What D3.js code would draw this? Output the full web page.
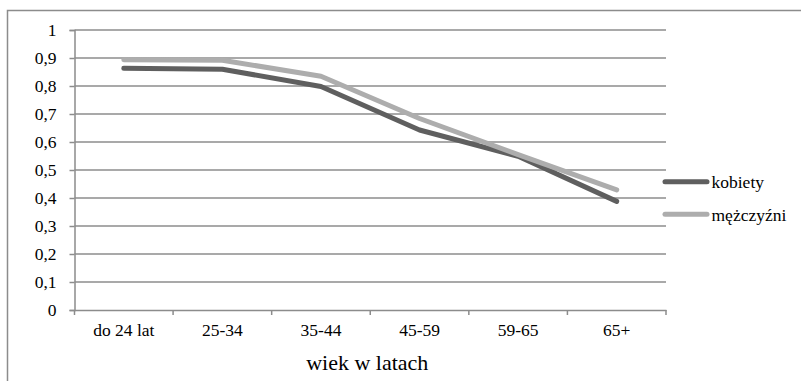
<!DOCTYPE html>
<html>
<head>
<meta charset="utf-8">
<script src="https://cdn.jsdelivr.net/npm/d3@7"></script>
<style>
  body { margin: 0; background: #fff; }
  svg text { font-family: "Liberation Serif", "Times New Roman", serif !important; fill: #000; }
</style>
</head>
<body>
<div id="chart"></div>
<script>
const categories = ["do 24 lat", "25-34", "35-44", "45-59", "59-65", "65+"];
const kobiety = [0.863, 0.860, 0.798, 0.643, 0.549, 0.388];
const mezczyzni = [0.894, 0.892, 0.835, 0.684, 0.555, 0.429];
const seriesNames = ["kobiety", "mężczyźni"];
const seriesColors = ["#5f5f5f", "#adadad"];
const yTicks = d3.range(0, 11).map(d => d / 10);

const width = 801, height = 381;
const margin = { left: 74.5, right: 135, top: 30, bottom: 71 };
const labelSize = 17.5;

const svg = d3.select("#chart").append("svg")
  .attr("width", width)
  .attr("height", height);

// outer frame
svg.append("rect")
  .attr("x", 7.5).attr("y", 10.5)
  .attr("width", 820).attr("height", 400)
  .attr("fill", "none")
  .attr("stroke", "#8c8c8c")
  .attr("stroke-width", 1.5);

const x = d3.scaleBand()
  .domain(categories)
  .range([margin.left, width - margin.right]);

const y = d3.scaleLinear()
  .domain([0, 1])
  .range([height - margin.bottom, margin.top]);

// gridlines
svg.append("g")
  .selectAll("line")
  .data(yTicks.filter(d => d > 0))
  .join("line")
  .attr("x1", margin.left)
  .attr("x2", width - margin.right)
  .attr("y1", d => y(d))
  .attr("y2", d => y(d))
  .attr("stroke", "#8c8c8c")
  .attr("stroke-width", 1.5);

// y axis
const yAxis = svg.append("g")
  .attr("transform", `translate(${margin.left},0)`)
  .call(d3.axisLeft(y).tickValues(yTicks).tickSize(5).tickPadding(13)
    .tickFormat(d => String(d).replace(".", ",")));
yAxis.attr("font-family", null).attr("font-size", labelSize);
yAxis.select(".domain").attr("stroke", "#8c8c8c").attr("stroke-width", 1.5);
yAxis.selectAll(".tick line").attr("stroke", "#8c8c8c").attr("stroke-width", 1.5);

// x axis
const xAxis = svg.append("g")
  .attr("transform", `translate(0,${y(0)})`)
  .call(d3.axisBottom(x).tickSize(0).tickPadding(14));
xAxis.attr("font-family", null).attr("font-size", labelSize);
xAxis.select(".domain").attr("stroke", "#8c8c8c").attr("stroke-width", 1.5);

// x tick marks at band edges
svg.append("g")
  .selectAll("line")
  .data(d3.range(categories.length + 1))
  .join("line")
  .attr("x1", i => margin.left + i * x.step())
  .attr("x2", i => margin.left + i * x.step())
  .attr("y1", y(0))
  .attr("y2", y(0) + 5)
  .attr("stroke", "#8c8c8c")
  .attr("stroke-width", 1.5);

svg.append("text")
  .attr("x", (margin.left + width - margin.right) / 2 - 3)
  .attr("y", 370)
  .attr("text-anchor", "middle")
  .attr("font-size", 22)
  .text("wiek w latach");

// lines
const line = d3.line()
  .x((d, i) => x(categories[i]) + x.bandwidth() / 2)
  .y(d => y(d));

[kobiety, mezczyzni].forEach((vals, si) => {
  svg.append("path")
    .datum(vals)
    .attr("d", line)
    .attr("fill", "none")
    .attr("stroke", seriesColors[si])
    .attr("stroke-width", 5)
    .attr("stroke-linejoin", "round")
    .attr("stroke-linecap", "round");
});

// legend
const legend = svg.append("g");
seriesNames.forEach((name, i) => {
  const ly = 181.7 + i * 32.6;
  legend.append("line")
    .attr("x1", 665).attr("x2", 707)
    .attr("y1", ly).attr("y2", ly)
    .attr("stroke", seriesColors[i])
    .attr("stroke-width", 5)
    .attr("stroke-linecap", "round");
  legend.append("text")
    .attr("x", 711.5)
    .attr("y", ly + 6.3)
    .attr("font-size", labelSize)
    .text(name);
});
</script>
</body>
</html>
